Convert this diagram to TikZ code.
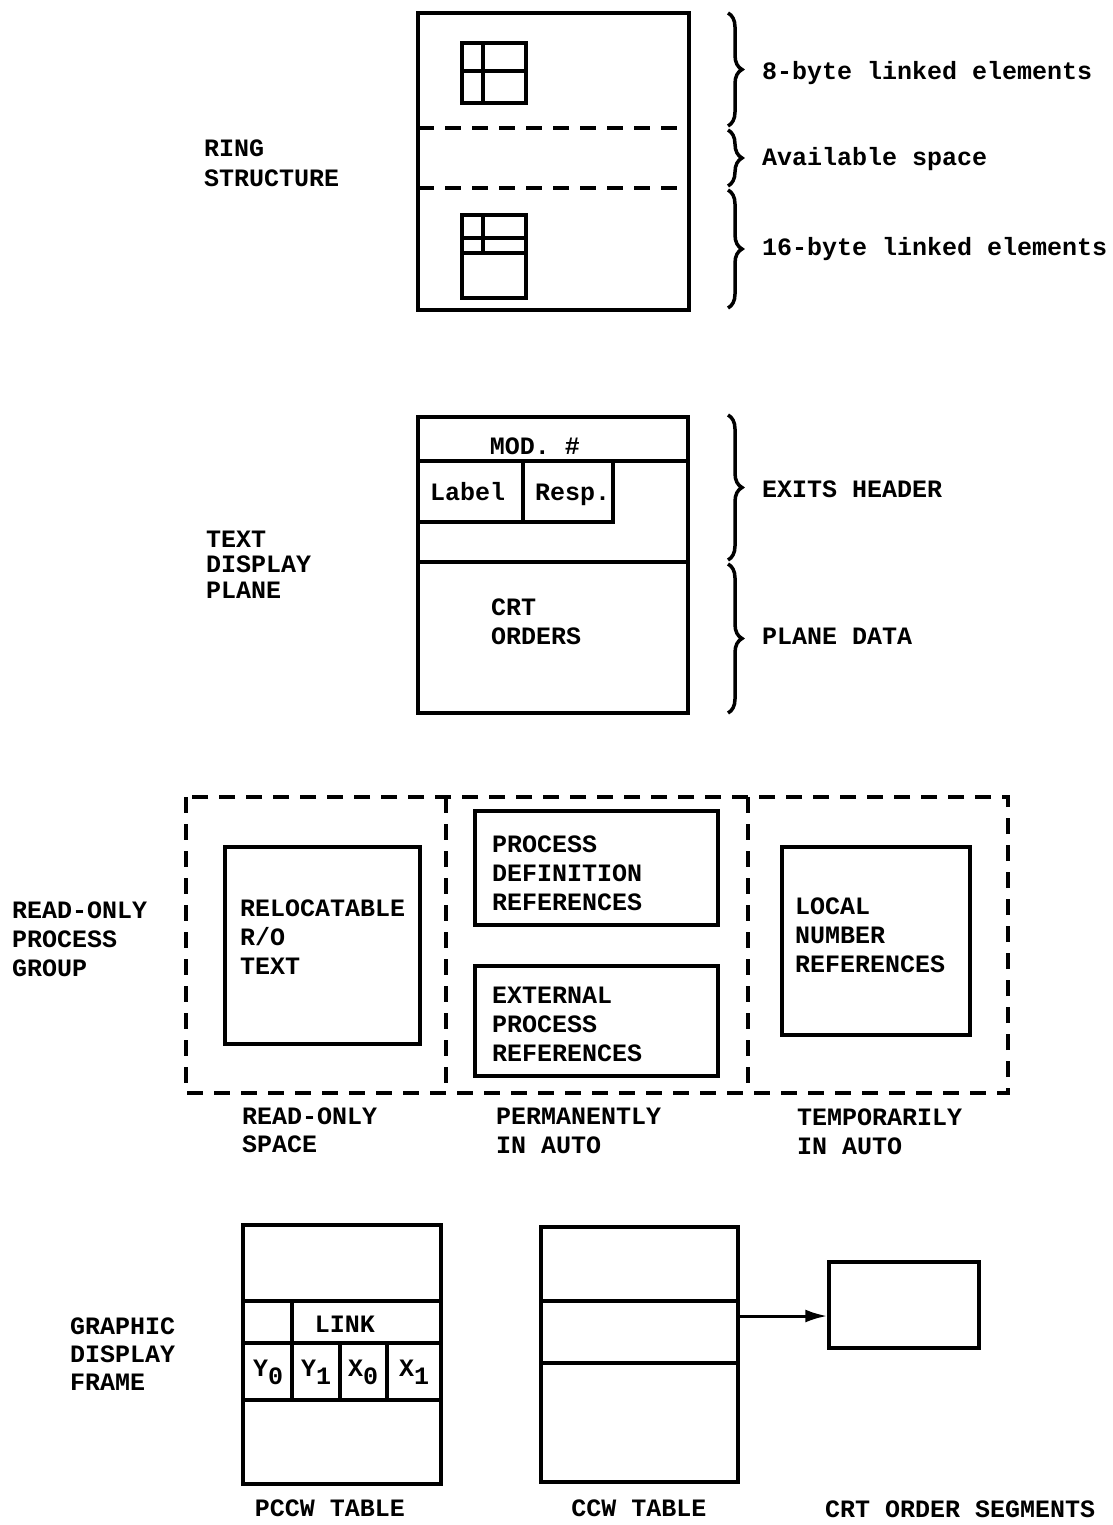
\documentclass[tikz,border=0pt]{standalone}
\usepackage{fontspec}
\setmainfont{Liberation Mono}
\usetikzlibrary{decorations.pathreplacing,arrows.meta}
\begin{document}
\begin{tikzpicture}[x=1pt,y=-1pt,
  box/.style={line width=3.5pt},
  dsh/.style={line width=3.5pt, dash pattern=on 16pt off 11pt},
  txt/.style={anchor=base west, inner sep=0pt, font=\fontsize{25}{25}\selectfont\bfseries},
  ctxt/.style={anchor=base, inner sep=0pt, font=\fontsize{25}{25}\selectfont\bfseries},
  brc/.style={decorate, decoration={brace, amplitude=14pt}, line width=3.5pt}]
\fill[white] (0,0) rectangle (1112,1525);
\useasboundingbox (0,0) rectangle (1112,1525);

% ---------- RING STRUCTURE ----------
\draw[box] (418,13) rectangle (689,310);
\draw[dsh] (418,128) -- (689,128);
\draw[dsh] (418,188) -- (689,188);
\draw[box] (462,43) rectangle (526,103);
\draw[box] (483,43) -- (483,103);
\draw[box] (462,71) -- (526,71);
\draw[box] (462,215) rectangle (526,298);
\draw[box] (483,215) -- (483,253);
\draw[box] (462,238) -- (526,238);
\draw[box] (462,253) -- (526,253);
\draw[brc] (728,13) -- (728,126);
\draw[brc] (728,130) -- (728,186);
\draw[brc] (728,190) -- (728,308);
\node[txt] (t8) at (762,80) {8-byte linked elements};
\node[txt] (tav) at (762,166) {Available space};
\node[txt] (t16) at (762,255) {16-byte linked elements};
\node[txt] (ring1) at (204,157) {RING};
\node[txt] (ring2) at (204,187) {STRUCTURE};

% ---------- TEXT DISPLAY PLANE ----------
\draw[box] (418,417) rectangle (688,713);
\draw[box] (418,461) -- (688,461);
\draw[box] (418,522) -- (613,522) -- (613,461);
\draw[box] (523,461) -- (523,522);
\draw[box] (418,562) -- (688,562);
\draw[brc] (728,415) -- (728,560);
\draw[brc] (728,564) -- (728,713);
\node[ctxt] (mod) at (535,454) {MOD. \#};
\node[txt] (lab) at (430,500) {Label};
\node[txt] (resp) at (535,500) {Resp.};
\node[txt] (crt1) at (491,615) {CRT};
\node[txt] (crt2) at (491,644) {ORDERS};
\node[txt] (exh) at (762,497) {EXITS HEADER};
\node[txt] (pld) at (762,644) {PLANE DATA};
\node[txt] (tdp1) at (206,547) {TEXT};
\node[txt] (tdp2) at (206,572) {DISPLAY};
\node[txt] (tdp3) at (206,598) {PLANE};

% ---------- READ-ONLY PROCESS GROUP ----------
\draw[dsh] (186,797) rectangle (1008,1093);
\draw[dsh] (446,797) -- (446,1093);
\draw[dsh] (748,797) -- (748,1093);
\draw[box] (225,847) rectangle (420,1044);
\draw[box] (475,811) rectangle (718,925);
\draw[box] (475,966) rectangle (718,1076);
\draw[box] (782,847) rectangle (970,1035);
\node[txt] (rop1) at (12,918) {READ-ONLY};
\node[txt] (rop2) at (12,947) {PROCESS};
\node[txt] (rop3) at (12,976) {GROUP};
\node[txt] (rel1) at (240,916) {RELOCATABLE};
\node[txt] (rel2) at (240,945) {R/O};
\node[txt] (rel3) at (240,974) {TEXT};
\node[txt] (pd1) at (492,852) {PROCESS};
\node[txt] (pd2) at (492,881) {DEFINITION};
\node[txt] (pd3) at (492,910) {REFERENCES};
\node[txt] (ep1) at (492,1003) {EXTERNAL};
\node[txt] (ep2) at (492,1032) {PROCESS};
\node[txt] (ep3) at (492,1061) {REFERENCES};
\node[txt] (ln1) at (795,914) {LOCAL};
\node[txt] (ln2) at (795,943) {NUMBER};
\node[txt] (ln3) at (795,972) {REFERENCES};
\node[txt] (ros1) at (242,1124) {READ-ONLY};
\node[txt] (ros2) at (242,1152) {SPACE};
\node[txt] (pa1) at (496,1124) {PERMANENTLY};
\node[txt] (pa2) at (496,1153) {IN AUTO};
\node[txt] (ta1) at (797,1125) {TEMPORARILY};
\node[txt] (ta2) at (797,1154) {IN AUTO};

% ---------- GRAPHIC DISPLAY FRAME ----------
\node[txt] (gdf1) at (70,1334) {GRAPHIC};
\node[txt] (gdf2) at (70,1362) {DISPLAY};
\node[txt] (gdf3) at (70,1390) {FRAME};
\draw[box] (243,1225) rectangle (441,1484);
\draw[box] (243,1301) -- (441,1301);
\draw[box] (243,1343) -- (441,1343);
\draw[box] (243,1400) -- (441,1400);
\draw[box] (292,1301) -- (292,1400);
\draw[box] (340,1343) -- (340,1400);
\draw[box] (387,1343) -- (387,1400);
\node[ctxt] (link) at (345,1332) {LINK};
\node[ctxt] (y0) at (268,1376) {Y\raisebox{-8pt}{0}};
\node[ctxt] (y1) at (316,1376) {Y\raisebox{-8pt}{1}};
\node[ctxt] (x0) at (363,1376) {X\raisebox{-8pt}{0}};
\node[ctxt] (x1) at (414,1376) {X\raisebox{-8pt}{1}};
\node[ctxt] (pccw) at (330,1516) {PCCW TABLE};

\draw[box] (541,1227) rectangle (738,1482);
\draw[box] (541,1301) -- (738,1301);
\draw[box] (541,1363) -- (738,1363);
\coordinate (ccwmid) at (738,1316);
\node[box, draw, rectangle, minimum width=150pt, minimum height=86pt, inner sep=0pt] (crtseg) at (904,1305) {};
\draw[line width=3pt, -{Latex[length=22pt,width=13pt]}] (ccwmid) -- (ccwmid -| crtseg.west);
\node[ctxt] (ccw) at (639,1516) {CCW TABLE};
\node[txt] (crtlab) at (825,1517) {CRT ORDER SEGMENTS};
\end{tikzpicture}
\end{document}
